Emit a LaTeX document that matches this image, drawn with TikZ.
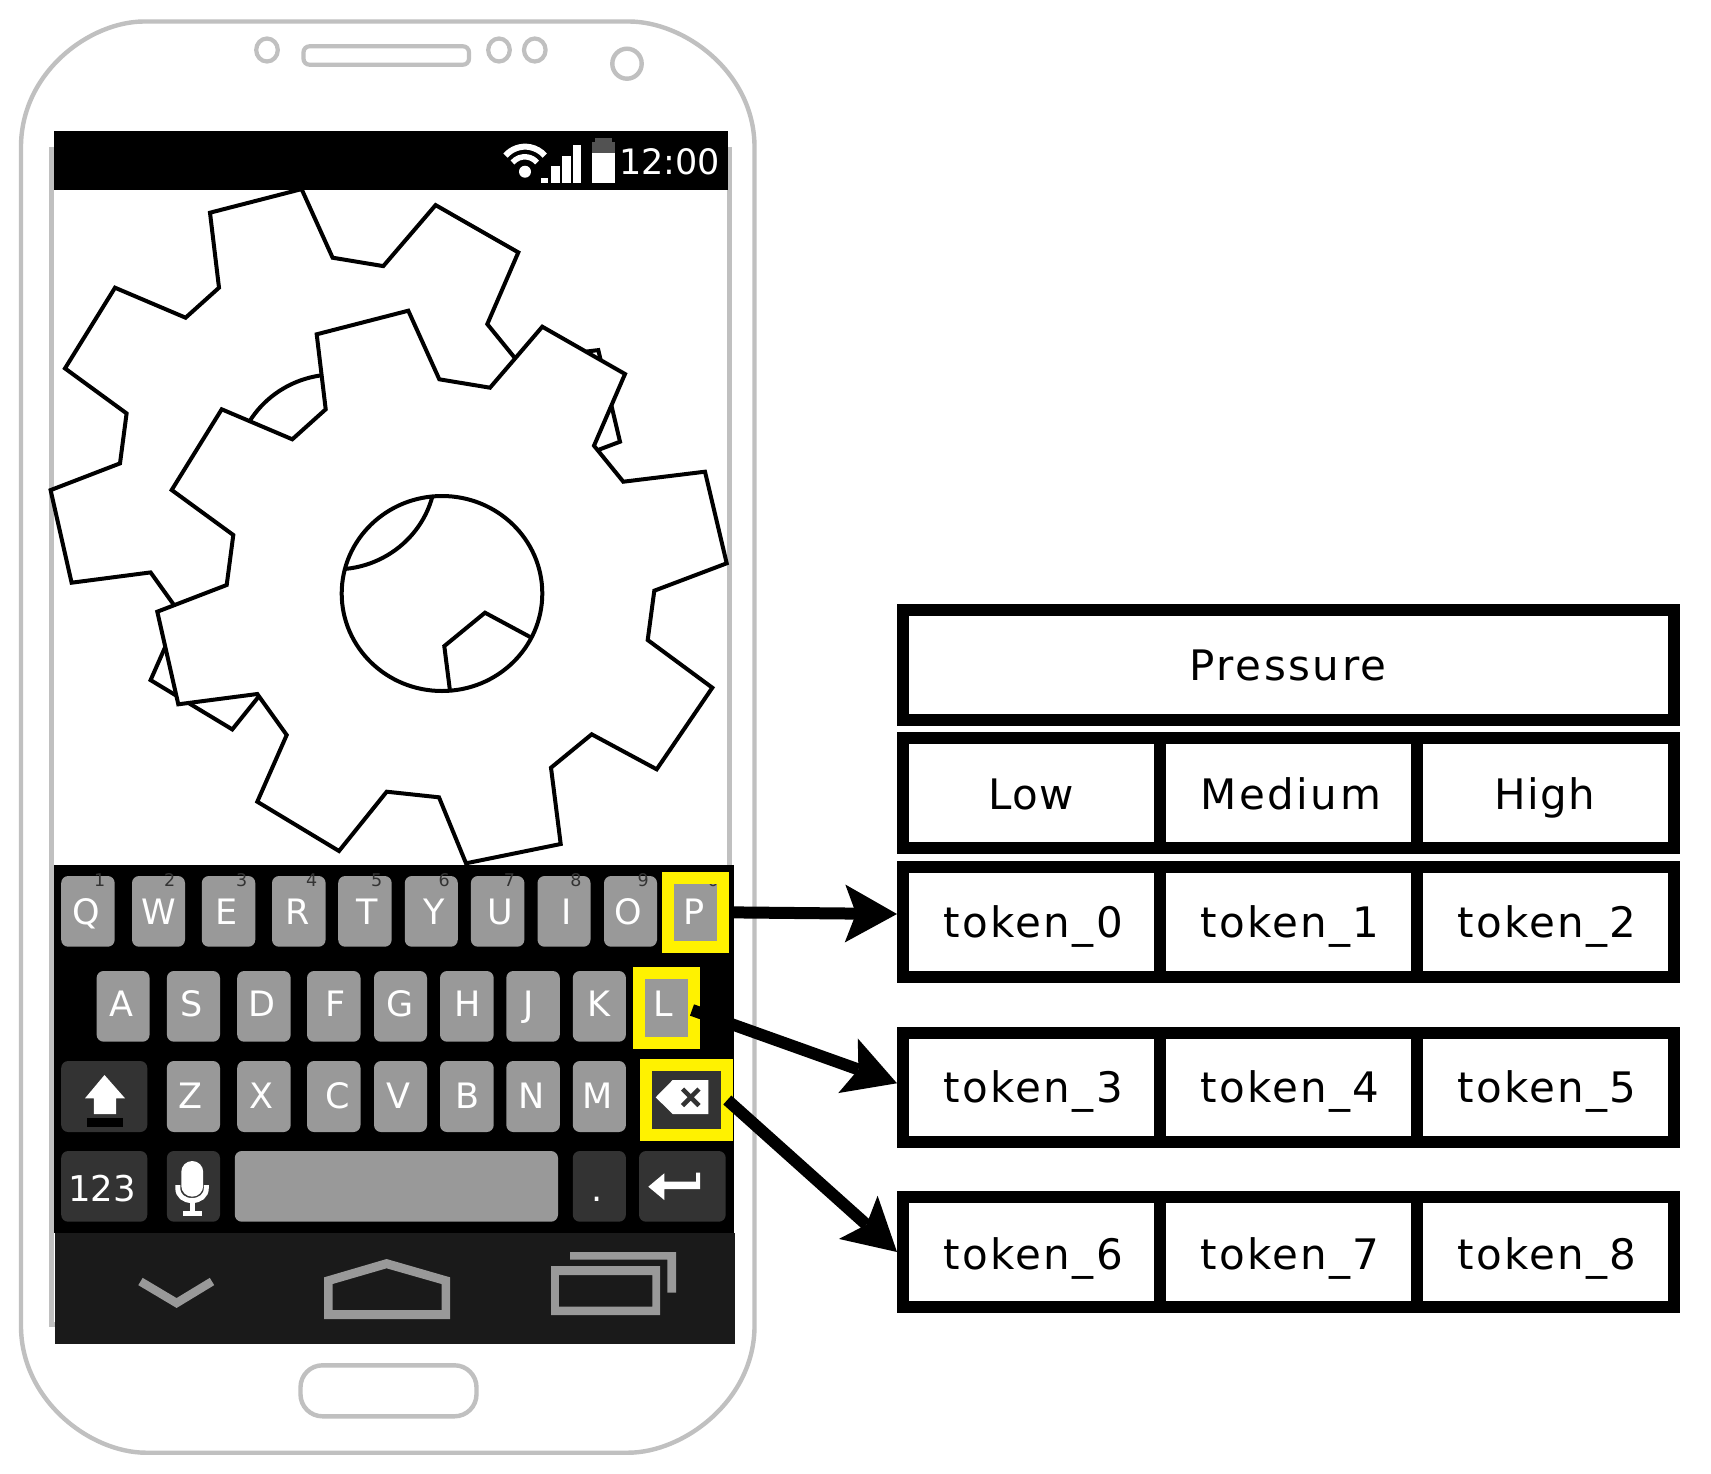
\documentclass[tikz,border=0pt]{standalone}
\usepackage{fontspec}
\setmainfont{DejaVu Sans}
\newfontfamily\cellfont[LetterSpace=3]{DejaVu Sans}
\newfontfamily\tokenfont[LetterSpace=5.5]{DejaVu Sans}
\newfontfamily\widecellfont[LetterSpace=6]{DejaVu Sans}
\usetikzlibrary{arrows.meta}
\definecolor{keygray}{HTML}{999999}
\definecolor{keydark}{HTML}{333333}
\definecolor{navdark}{HTML}{1A1A1A}
\definecolor{phonegray}{HTML}{C0C0C0}
\tikzset{
  plainkey/.style={rounded corners=7pt,inner sep=0pt,outer sep=0pt,draw=none},
  graykey/.style={plainkey,fill=keygray},
  darkkey/.style={plainkey,fill=keydark},
  keytxt/.style={anchor=base,inner sep=0pt,text=white,xshift=1pt,yshift=-1pt,font=\fontsize{35}{42}\selectfont},
  digittxt/.style={anchor=base,inner sep=0pt,text=keydark,font=\fontsize{17.5}{20}\selectfont},
  hlbox/.style={draw=yellow,line width=12pt,inner sep=0pt,outer sep=0pt,fill=none},
  cellbox/.style={draw=black,line width=12pt,fill=white,inner sep=0pt,text=black,
    font=\cellfont\fontsize{42}{50}\selectfont,text height=#1,text depth=10pt},
  outline/.style={draw=phonegray,line width=4.4pt},
  gearline/.style={draw=black,line width=4pt,fill=white,even odd rule,miter limit=3},
  bigarrow/.style={draw=black,line width=12pt,-{Stealth[length=52pt,width=58pt,inset=11pt,line width=0pt]}},
  navicon/.style={fill=keygray,even odd rule},
}
\newcommand{\keynode}[6]{%
  \pgfmathsetmacro{\kw}{#5-#3}\pgfmathsetmacro{\kh}{#6-#4}%
  \node[#1,anchor=north west,minimum width=\kw pt,minimum height=\kh pt] (#2) at (#3,#4) {};}
\newcommand{\cellnode}[7]{%
  \pgfmathsetmacro{\kw}{#4-#2}\pgfmathsetmacro{\kh}{#5-#3}%
  \pgfmathsetmacro{\kx}{#2-6}\pgfmathsetmacro{\ky}{#3-6}%
  \node[cellbox=#7,anchor=north west,minimum width=\kw pt,minimum height=\kh pt] (#1) at (\kx,\ky) {#6};}
\newcommand{\tok}[1]{\hspace*{4pt}\tokenfont token\_#1}
\newcommand{\gearoutline}{(316.7,334.3) -- (408.3,310.7) -- (439.3,379.3) -- (490,387.7) -- (542.3,326.7) -- (625,374) -- (594,445.7) -- (623.3,481.7) -- (705,471.7) -- (726.7,563.3) -- (654.3,590.7) -- (647.7,640) -- (712.3,687.7) -- (656.7,769.3) -- (591.7,734.3) -- (551,767.7) -- (560.7,844) -- (466,863.3) -- (439,797.3) -- (386.7,791.7) -- (339,851) -- (257.3,801.7) -- (286.7,735) -- (257.3,694) -- (178.3,704.3) -- (157.3,611.7) -- (226.7,585) -- (233.3,535) -- (171.7,490) -- (221.7,409.3) -- (292.3,439.3) -- (325.7,409.3) -- cycle (442,593.5) ellipse[x radius=100.3pt,y radius=97.5pt]}
\begin{document}
\begin{tikzpicture}[x=1pt,y=-1pt]
\useasboundingbox (0,0) rectangle (1711,1473);
\fill[white] (0,0) rectangle (1711,1473);
% phone body
\draw[outline,fill=white] (144,21.5) -- (629,21.5)
  .. controls (684,21.5) and (754.5,72) .. (754.5,147)
  -- (754.5,1326) .. controls (754.5,1400) and (684,1452.7) .. (628,1452.7)
  -- (146,1452.7) .. controls (90,1452.7) and (21,1400) .. (21,1326)
  -- (21,147) .. controls (21,72) and (90,21.5) .. (144,21.5) -- cycle;
\draw[phonegray,line width=5pt] (51,149.5) rectangle (729.5,1324);
% earpiece, sensors, home button
\draw[outline,line width=4.2pt,rounded corners=6pt] (303.5,46.3) rectangle (469,64.7);
\draw[outline,line width=4.2pt] (267,50) ellipse[x radius=10.8pt,y radius=11.5pt];
\draw[outline,line width=4.2pt] (499,50) ellipse[x radius=10.8pt,y radius=11.5pt];
\draw[outline,line width=4.2pt] (534.8,50) ellipse[x radius=10.8pt,y radius=11.5pt];
\draw[outline,line width=4.4pt] (627,63.7) ellipse[x radius=14.7pt,y radius=15pt];
\draw[outline,rounded corners=22pt] (300.5,1365.3) rectangle (476.5,1416.3);
% gears
\begin{scope}[shift={(-106.7,-121.6)}]
\draw[gearline] \gearoutline;
\end{scope}
\draw[gearline] \gearoutline;
% status bar
\fill[black] (54,130.7) rectangle (728,190);
\draw[white,line width=6pt] (505.5,155.6) arc[start angle=139,end angle=41,radius=26pt];
\draw[white,line width=5.5pt] (512.5,162.5) arc[start angle=140,end angle=40,radius=16pt];
\fill[white] (525,171.7) ellipse[x radius=6pt,y radius=6pt];
\fill[white] (540.8,177.7) rectangle (548.3,182.7);
\fill[white] (551.2,165.7) rectangle (559.7,182.7);
\fill[white] (562,155.7) rectangle (570.6,182.7);
\fill[white] (573,145) rectangle (581,182.7);
\fill[white] (592,152.7) rectangle (615,182.7);
\fill[keydark!85!white] (592,142) rectangle (615,152.7);
\fill[keydark!85!white] (595,137.7) rectangle (612,142);
\node[anchor=base,inner sep=0pt,text=white,font=\fontsize{35}{40}\selectfont] (clock) at (669.7,174) {12:00};
% keyboard and navigation bar
\fill[black] (54.2,865) rectangle (734,1232.7);
\fill[navdark] (55,1232.7) rectangle (735,1344);
% row 1
\foreach \n/\xa/\xb/\lx/\dx/\dg in {Q/61.2/114.7/84.9/99.8/1,W/132/185/158/169.7/2,E/201.8/255.3/225.5/241.8/3,R/272/325.6/296.8/311.7/4,T/338.2/391.7/366.6/376.8/5,Y/404.8/457.8/432.7/444.3/6,U/470.9/524.4/499.3/509.5/7,I/537.5/590.5/565.4/576/8,O/604/657/627.3/643.1/9,P/668/723/693.4/713.3/0}{
  \keynode{graykey}{k\n}{\xa}{876}{\xb}{946.7}
  \node[keytxt] (l\n) at (\lx,923.3) {\n};
  \node[digittxt] (d\dg) at (\dx,886) {\dg};
}
% row 2
\foreach \n/\xa/\xb/\lx in {A/96.6/149.6/120.3,S/166.9/220/190.6,D/237.2/290.7/261.4,F/307/360.5/335,G/374/427/398.7,H/440/493.7/467.1,J/506.3/559.8/527.2,K/572.8/625.9/598,L/639/694/662.5}{
  \keynode{graykey}{k\n}{\xa}{971}{\xb}{1041.7}
  \node[keytxt] (l\n) at (\lx,1015.7) {\n};
}
% row 3
\keynode{darkkey}{kshift}{61.2}{1061}{147.3}{1132}
\foreach \n/\xa/\xb/\lx in {Z/166.9/220/189.7,X/237.2/290.7/260.4,C/307/360.5/336.3,V/374/427/397.8,B/440/493.7/466.7,N/506.3/559.8/530.5,M/572.8/625.9/597}{
  \keynode{graykey}{k\n}{\xa}{1061}{\xb}{1132}
  \node[keytxt] (l\n) at (\lx,1107.3) {\n};
}
\fill[white] (104.5,1075) -- (125,1098.3) -- (116.1,1098.3) -- (116.1,1114) -- (93.8,1114) -- (93.8,1098.3) -- (85,1098.3) -- cycle;
\fill[black] (86.8,1118) rectangle (123.1,1127);
\keynode{darkkey}{kback}{646}{1065}{727.3}{1135}
\fill[white] (655.7,1097.3) -- (672.7,1080) -- (708.3,1080) -- (708.3,1114) -- (672.7,1114) -- cycle;
\draw[keydark,line width=4.5pt] (682.5,1089) -- (699,1105.6) (699,1089) -- (682.5,1105.6);
% row 4
\keynode{darkkey}{knum}{61.2}{1151}{147.3}{1221.7}
\node[keytxt,font=\fontsize{35.5}{40}\selectfont] (lnum) at (101,1200.3) {123};
\keynode{darkkey}{kmic}{166.9}{1151}{220}{1221.7}
\fill[white,rounded corners=10.9pt] (181.3,1161) rectangle (203.2,1196.7);
\draw[white,line width=5pt] (177.8,1185) -- (177.8,1188) .. controls (177.8,1196) and (184,1200.5) .. (192,1200.5) .. controls (200,1200.5) and (206.3,1196) .. (206.3,1188) -- (206.3,1185);
\fill[white] (189.5,1200) rectangle (194.5,1212);
\fill[white] (182.7,1211) rectangle (202.3,1216);
\keynode{graykey}{kspace}{234.8}{1151}{558}{1221.7}
\keynode{darkkey}{kdot}{572.8}{1151}{625.9}{1221.7}
\node[keytxt] (ldot) at (596,1200.3) {.};
\keynode{darkkey}{kenter}{639}{1151}{725.7}{1221.7}
\fill[white] (648.3,1186.7) -- (664.3,1173.3) -- (664.3,1181.7) -- (696,1181.7) -- (696,1172.7) -- (700,1172.7) -- (700,1189) -- (664.3,1189) -- (664.3,1200) -- cycle;
% navigation icons
\draw[keygray,line width=8.5pt] (140.5,1281.5) -- (176.6,1303) -- (212,1281.5);
\fill[navicon] (324.2,1277.3) -- (386.6,1259) -- (450,1277.3) -- (450,1319) -- (324.2,1319) -- cycle
  (332.6,1284) -- (386.6,1268.3) -- (441.5,1284) -- (441.5,1310) -- (332.6,1310) -- cycle;
\fill[navicon] (551,1266) rectangle (660,1315) (558.9,1275) rectangle (652.4,1306.7);
\fill[keygray] (570,1252) -- (676.2,1252) -- (676.2,1292.7) -- (667.4,1292.7) -- (667.4,1259.7) -- (570,1259.7) -- cycle;
% highlighted keys
\keynode{hlbox}{pbox}{668}{878}{723}{946.7}
\keynode{hlbox}{lbox}{639}{973}{694}{1043}
\keynode{hlbox}{bbox}{646}{1065}{727.3}{1135}
% table
\cellnode{press}{903}{610}{1673.5}{720}{\widecellfont Pressure}{40pt}
\cellnode{low}{903}{737.7}{1159.6}{847.6}{Low}{44pt}
\cellnode{med}{1159.6}{737.7}{1416.7}{847.6}{\hspace*{5pt}\widecellfont Medium}{44pt}
\cellnode{high}{1416.7}{737.7}{1673.5}{847.6}{High}{44pt}
\cellnode{t0}{903}{867}{1159.6}{977}{\tok{0}}{40pt}
\cellnode{t1}{1159.6}{867}{1416.7}{977}{\tok{1}}{40pt}
\cellnode{t2}{1416.7}{867}{1673.5}{977}{\tok{2}}{40pt}
\cellnode{t3}{903}{1032.5}{1159.6}{1142}{\tok{3}}{40pt}
\cellnode{t4}{1159.6}{1032.5}{1416.7}{1142}{\tok{4}}{40pt}
\cellnode{t5}{1416.7}{1032.5}{1673.5}{1142}{\tok{5}}{40pt}
\cellnode{t6}{903}{1197}{1159.6}{1307}{\tok{6}}{44pt}
\cellnode{t7}{1159.6}{1197}{1416.7}{1307}{\tok{7}}{44pt}
\cellnode{t8}{1416.7}{1197}{1673.5}{1307}{\tok{8}}{44pt}
% arrows
\draw[bigarrow] ([xshift=7pt]pbox.east) -- ([yshift=8pt]t0.west);
\draw[bigarrow] ([xshift=-2pt,yshift=-2pt]lbox.east) -- ([yshift=4pt]t3.west);
\draw[bigarrow] (bbox.east) -- (t6.west);
\end{tikzpicture}
\end{document}
